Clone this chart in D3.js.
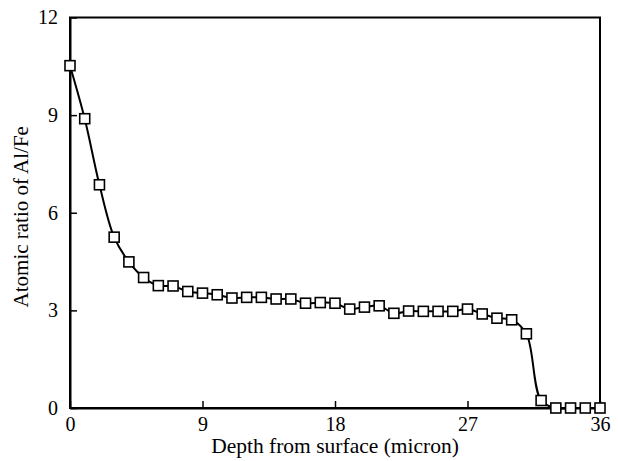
<!DOCTYPE html>
<html>
<head>
<meta charset="utf-8">
<script src="https://cdn.jsdelivr.net/npm/d3@7"></script>
<style>
  body { margin: 0; background: #fff; }
  svg { display: block; }
  text { font-family: "Liberation Serif", "Times New Roman", serif; }
</style>
</head>
<body>
<svg id="chart" width="618" height="461"></svg>
<script>
// Data
var depth = d3.range(0, 37);
var ratio = [10.52, 8.89, 6.86, 5.25, 4.49, 4.01, 3.76, 3.75, 3.58, 3.53,
  3.48, 3.38, 3.40, 3.40, 3.35, 3.35, 3.22, 3.24, 3.22, 3.04,
  3.10, 3.14, 2.91, 2.98, 2.97, 2.97, 2.97, 3.04, 2.89, 2.76,
  2.71, 2.28, 0.23, 0, 0, 0, 0];
var xTicks = [0, 9, 18, 27, 36];
var yTicks = [0, 3, 6, 9, 12];

var svg = d3.select("#chart"),
  margin = {left: 70, right: 18, top: 17.5, bottom: 53},
  width = +svg.attr("width") - margin.left - margin.right,
  height = +svg.attr("height") - margin.top - margin.bottom,
  font = "Liberation Serif";

var x = d3.scaleLinear().domain([0, 36]).range([0, width]);
var y = d3.scaleLinear().domain([0, 12]).range([height, 0]);

var g = svg.append("g")
  .attr("transform", "translate(" + margin.left + "," + margin.top + ")");

// frame
g.append("rect")
  .attr("width", width)
  .attr("height", height)
  .attr("fill", "none")
  .attr("stroke", "#000")
  .attr("stroke-width", 2);

// axes with inward ticks
var xAxis = g.append("g")
  .attr("transform", "translate(0," + height + ")")
  .call(d3.axisBottom(x).tickValues(xTicks).tickSizeInner(-7).tickSizeOuter(0).tickPadding(9));
var yAxis = g.append("g")
  .call(d3.axisLeft(y).tickValues(yTicks).tickSizeInner(-7).tickSizeOuter(0).tickPadding(12));

[xAxis, yAxis].forEach(function (a) {
  a.attr("font-family", font).attr("font-size", 20);
  a.select(".domain").attr("stroke-width", 2);
  a.selectAll(".tick line").attr("stroke-width", 1.5);
  a.selectAll(".tick text").attr("fill", "#000");
});

// line
var line = d3.line()
  .x(function (d, i) { return x(depth[i]); })
  .y(function (d) { return y(d); })
  .curve(d3.curveCatmullRom);

g.append("path")
  .datum(ratio)
  .attr("d", line)
  .attr("fill", "none")
  .attr("stroke", "#000")
  .attr("stroke-width", 2);

// square markers
var s = 10;
g.selectAll(".pt")
  .data(ratio)
  .enter().append("rect")
  .attr("class", "pt")
  .attr("x", function (d, i) { return x(depth[i]) - s / 2; })
  .attr("y", function (d) { return y(d) - s / 2; })
  .attr("width", s)
  .attr("height", s)
  .attr("fill", "#fff")
  .attr("stroke", "#000")
  .attr("stroke-width", 1.6);

// axis titles
svg.append("text")
  .attr("x", margin.left + width / 2)
  .attr("y", 453)
  .attr("text-anchor", "middle")
  .attr("font-family", font)
  .attr("font-size", 21.5)
  .text("Depth from surface (micron)");

svg.append("text")
  .attr("transform", "translate(28," + (margin.top + height / 2 + 4) + ") rotate(-90)")
  .attr("text-anchor", "middle")
  .attr("font-family", font)
  .attr("font-size", 21)
  .text("Atomic ratio of Al/Fe");
</script>
</body>
</html>
